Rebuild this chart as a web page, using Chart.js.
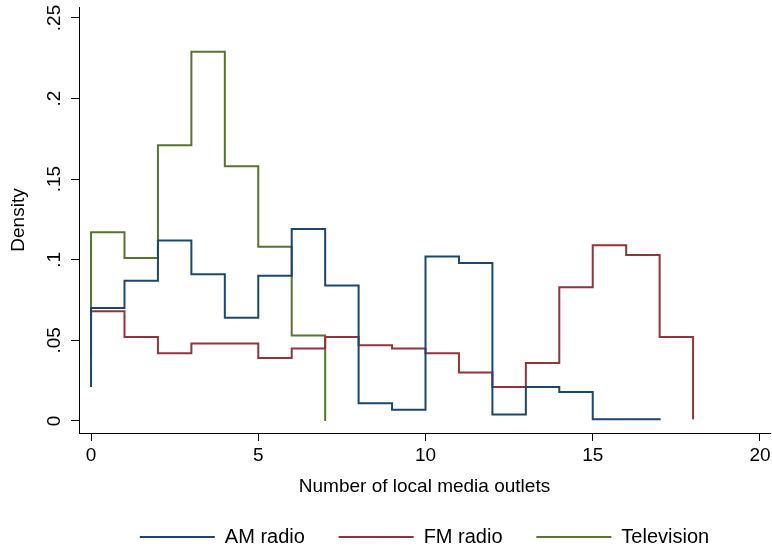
<!DOCTYPE html>
<html>
<head>
<meta charset="utf-8">
<script src="https://cdn.jsdelivr.net/npm/chart.js@4.4.1/dist/chart.umd.min.js"></script>
<style>
  html, body { margin: 0; padding: 0; background: #ffffff; }
  #wrap { width: 772px; height: 550px; }
</style>
</head>
<body>
<div id="wrap"><canvas id="c" width="772" height="550"></canvas></div>
<script>
// ---- Data (step heights per unit bin, starting at x = 0) ----
const seriesNames = ['AM radio', 'FM radio', 'Television'];
const seriesColors = ['#1a476f', '#90353b', '#55752f'];

const amStart = 0.021;
const amBins = [0.070, 0.087, 0.112, 0.091, 0.064, 0.090, 0.119, 0.084, 0.011, 0.007,
                0.102, 0.098, 0.004, 0.021, 0.018, 0.001, 0.001];
const amEnd = 0.0004;

const fmStart = 0.040;
const fmBins = [0.068, 0.052, 0.042, 0.048, 0.048, 0.039, 0.045, 0.052, 0.047, 0.045,
                0.042, 0.030, 0.021, 0.036, 0.083, 0.109, 0.103, 0.052];
const fmEnd = 0.001;

const tvStart = 0.062;
const tvBins = [0.117, 0.101, 0.171, 0.229, 0.158, 0.108, 0.053];
const tvEnd = 0.0;

const xTickValues = [0, 5, 10, 15, 20];
const yTickValues = [0, 0.05, 0.1, 0.15, 0.2, 0.25];
const yTickLabels = ['0', '.05', '.1', '.15', '.2', '.25'];

const xTitle = 'Number of local media outlets';
const yTitle = 'Density';

// ---- Build step-series points from bin heights ----
function stepPoints(start, bins, end) {
  const pts = [{ x: 0, y: start }];
  bins.forEach((h, i) => pts.push({ x: i, y: h }));
  pts.push({ x: bins.length, y: end });
  return pts;
}

const seriesData = [
  stepPoints(amStart, amBins, amEnd),
  stepPoints(fmStart, fmBins, fmEnd),
  stepPoints(tvStart, tvBins, tvEnd)
];

const FONT = '"Liberation Sans", Arial, Helvetica, sans-serif';
const FS = 19;
const LEGEND_FS = 20;

const datasets = seriesNames.map((name, i) => ({
  label: name,
  data: seriesData[i],
  borderColor: seriesColors[i],
  backgroundColor: seriesColors[i],
  borderWidth: 2,
  pointRadius: 0,
  pointHoverRadius: 0,
  stepped: 'before',
  fill: false,
  tension: 0,
  pointStyle: 'line'
}));

new Chart(document.getElementById('c'), {
  type: 'line',
  data: { datasets },
  options: {
    responsive: false,
    animation: false,
    devicePixelRatio: 1,
    layout: { padding: { left: 0, right: 2, top: 7, bottom: 0 } },
    plugins: {
      tooltip: { enabled: false },
      legend: {
        display: true,
        position: 'bottom',
        fullSize: false,
        maxHeight: 56.8,
        labels: {
          usePointStyle: true,
          pointStyleWidth: 75,
          padding: 33.8,
          color: '#000',
          font: { family: FONT, size: LEGEND_FS }
        }
      }
    },
    scales: {
      x: {
        type: 'linear',
        min: -0.36,
        max: 20.3,
        afterBuildTicks: (s) => { s.ticks = xTickValues.map(v => ({ value: v })); },
        afterFit: (s) => { s.height = 60.2; s.paddingLeft = 0; s.paddingRight = 0; },
        grid: { display: true, drawOnChartArea: false, drawTicks: true, tickLength: 8, color: '#000', lineWidth: 1 },
        border: { display: true, color: '#000', width: 1 },
        ticks: {
          padding: 3,
          color: '#000',
          maxRotation: 0,
          font: { family: FONT, size: FS },
          callback: (v) => String(v)
        },
        title: {
          display: true,
          text: xTitle,
          color: '#000',
          font: { family: FONT, size: FS },
          padding: { top: 0, bottom: -4.7 }
        }
      },
      y: {
        type: 'linear',
        min: -0.0075,
        max: 0.2568,
        afterBuildTicks: (s) => { s.ticks = yTickValues.map(v => ({ value: v })); },
        afterFit: (s) => { s.width = 79; s.paddingTop = 0; s.paddingBottom = 0; },
        grid: { display: true, drawOnChartArea: false, drawTicks: true, tickLength: 8, color: '#000', lineWidth: 1 },
        border: { display: true, color: '#000', width: 1 },
        ticks: {
          padding: 3,
          minRotation: 90,
          maxRotation: 90,
          crossAlign: 'center',
          color: '#000',
          font: { family: FONT, size: FS },
          callback: (v, i) => yTickLabels[i]
        },
        title: {
          display: true,
          text: yTitle,
          color: '#000',
          font: { family: FONT, size: FS },
          padding: { top: 7, bottom: 0 }
        }
      }
    }
  }
});
</script>
</body>
</html>
